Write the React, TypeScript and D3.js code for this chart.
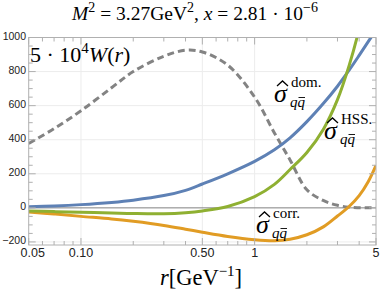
import React from "react";
import * as d3 from "d3";

// sampled radii (GeV^-1)
const rVals = [0.05, 0.07, 0.1, 0.15, 0.2, 0.3, 0.4, 0.5, 0.7, 1, 1.3, 1.6, 2, 2.5, 3, 3.5, 4, 4.5, 5];
const domVals = [6, 11, 19, 32, 45, 72, 103, 140, 200, 273, 341, 411, 506, 615, 714, 808, 895, 974, 1045];
const hssVals = [-18, -22, -26, -30, -33, -34, -28, -18, 8, 66, 138, 225, 325, 465, 635, 835, 1050, 1290, 1540];
const corrVals = [-24, -36, -50, -65, -79, -103, -125, -143, -168, -187, -193, -184, -158, -110, -48, 8, 72, 152, 250];
const wVals = [378, 465, 570, 705, 800, 890, 925, 915, 838, 650, 440, 281, 106, 42, 15, 4, 1, 0, 0];

const xMajor = [0.05, 0.1, 0.5, 1, 5];
const xLabels = ["0.05", "0.10", "0.50", "1", "5"];
const xMinor = [0.06, 0.07, 0.08, 0.09, 0.2, 0.3, 0.4, 0.6, 0.7, 0.8, 0.9, 2, 3, 4];
const yMajor = [-200, 0, 200, 400, 600, 800, 1000];
const yLabels = ["-200", "0", "200", "400", "600", "800", "1000"];

const W = 380;
const H = 298;
const left = 28.7;
const right = 376;
const top = 37.5;
const bottom = 245;

const serif = "'Liberation Serif', 'DejaVu Serif', serif";
const sans = "'Liberation Sans', Arial, sans-serif";

// sigma-hat with q qbar subscript and a superscript tag
const Sigma: React.FC<{ x: number; y: number; sup: string }> = ({ x, y, sup }) => (
  <g fontFamily={serif}>
    <text x={x} y={y} fontSize={26} fontStyle="italic">σ</text>
    <path
      d={`M${x + 3},${y - 16} L${x + 8.5},${y - 21} L${x + 14},${y - 16}`}
      fill="none"
      stroke="#000"
      strokeWidth={1.3}
    />
    <text x={x + 17} y={y - 15} fontSize={15}>{sup}</text>
    <text x={x + 16} y={y + 5} fontSize={15} fontStyle="italic">qq</text>
    <line x1={x + 24.5} x2={x + 31} y1={y - 4.5} y2={y - 4.5} stroke="#000" strokeWidth={0.9} />
  </g>
);

export default function App() {
  const x = d3.scaleLog().domain([0.05, 5]).range([left, right]);
  const y = d3.scaleLinear().domain([-218, 1000]).range([bottom, top]);

  const line = (vals: number[]) =>
    d3
      .line<number>()
      .x((_, i) => x(rVals[i]))
      .y(d => y(d))
      .curve(d3.curveCatmullRom.alpha(0.5))(vals) || "";

  const frame = "#b0b0b0";

  return (
    <svg width={W} height={H} style={{ position: "absolute", left: 0, top: 0, background: "#fff" }}>
      <defs>
        <clipPath id="plot">
          <rect x={left} y={top} width={right - left} height={bottom - top} />
        </clipPath>
      </defs>

      {/* title */}
      <text x={195} y={20} textAnchor="middle" fontFamily={serif} fontSize={19.5}>
        <tspan fontStyle="italic">M</tspan>
        <tspan dy={-8} fontSize={14}>2</tspan>
        <tspan dy={8}> = 3.27GeV</tspan>
        <tspan dy={-8} fontSize={14}>2</tspan>
        <tspan dy={8}>, </tspan>
        <tspan fontStyle="italic">x</tspan>
        <tspan> = 2.81 · 10</tspan>
        <tspan dy={-8} fontSize={14}>−6</tspan>
      </text>

      {/* grid */}
      {[-200, 200, 400, 600, 800].map(v => (
        <line key={"gy" + v} x1={left} x2={right} y1={y(v)} y2={y(v)} stroke="#ececec" strokeWidth={1} />
      ))}
      {[0.1, 0.5, 1].map(v => (
        <line key={"gx" + v} x1={x(v)} x2={x(v)} y1={top} y2={bottom} stroke="#ececec" strokeWidth={1} />
      ))}
      <line x1={left} x2={right} y1={y(0)} y2={y(0)} stroke="#808080" strokeWidth={1} />

      <g clipPath="url(#plot)" fill="none" strokeWidth={3}>
        <path d={line(wVals)} stroke="#838383" strokeDasharray="7,4" />
        <path d={line(domVals)} stroke="#5E81B5" />
        <path d={line(corrVals)} stroke="#E19C24" />
        <path d={line(hssVals)} stroke="#8FB032" />
      </g>

      {/* frame */}
      <rect x={left} y={top} width={right - left} height={bottom - top} fill="none" stroke={frame} strokeWidth={1} />
      {yMajor.map(v => (
        <g key={"ty" + v} stroke={frame}>
          <line x1={left} x2={left + 7} y1={y(v)} y2={y(v)} />
          <line x1={right} x2={right - 7} y1={y(v)} y2={y(v)} />
        </g>
      ))}
      {d3.range(-200, 1000, 50).filter(v => v % 200 !== 0).map(v => (
        <g key={"tym" + v} stroke={frame}>
          <line x1={left} x2={left + 4} y1={y(v)} y2={y(v)} />
          <line x1={right} x2={right - 4} y1={y(v)} y2={y(v)} />
        </g>
      ))}
      {xMajor.map(v => (
        <g key={"tx" + v} stroke={frame}>
          <line x1={x(v)} x2={x(v)} y1={bottom} y2={bottom - 7} />
          <line x1={x(v)} x2={x(v)} y1={top} y2={top + 7} />
        </g>
      ))}
      {xMinor.map(v => (
        <g key={"txm" + v} stroke={frame}>
          <line x1={x(v)} x2={x(v)} y1={bottom} y2={bottom - 4} />
          <line x1={x(v)} x2={x(v)} y1={top} y2={top + 4} />
        </g>
      ))}

      {/* tick labels */}
      {yMajor.map((v, i) => (
        <text key={"ly" + v} x={26} y={y(v) + 2.5} textAnchor="end" fontFamily={sans} fontSize={10.5} fill="#222">
          {yLabels[i].replace("-", "−")}
        </text>
      ))}
      {xMajor.map((v, i) => (
        <text key={"lx" + v} x={i === 0 ? x(v) + 4 : x(v)} y={257} textAnchor="middle" fontFamily={sans} fontSize={12.5} fill="#222">
          {xLabels[i]}
        </text>
      ))}

      {/* axis label */}
      <text x={201} y={285} textAnchor="middle" fontFamily={serif} fontSize={22.5}>
        <tspan fontStyle="italic">r</tspan>
        <tspan>[GeV</tspan>
        <tspan dy={-9} fontSize={15}>−1</tspan>
        <tspan dy={9}>]</tspan>
      </text>

      {/* inset label */}
      <text x={30} y={62} fontFamily={serif} fontSize={22}>
        <tspan>5 · 10</tspan>
        <tspan dy={-9} fontSize={15}>4</tspan>
        <tspan dy={9} fontStyle="italic">W</tspan>
        <tspan>(</tspan>
        <tspan fontStyle="italic">r</tspan>
        <tspan>)</tspan>
      </text>

      <Sigma x={274} y={102} sup="dom." />
      <Sigma x={324} y={139} sup="HSS." />
      <Sigma x={256} y={233} sup="corr." />
    </svg>
  );
}
